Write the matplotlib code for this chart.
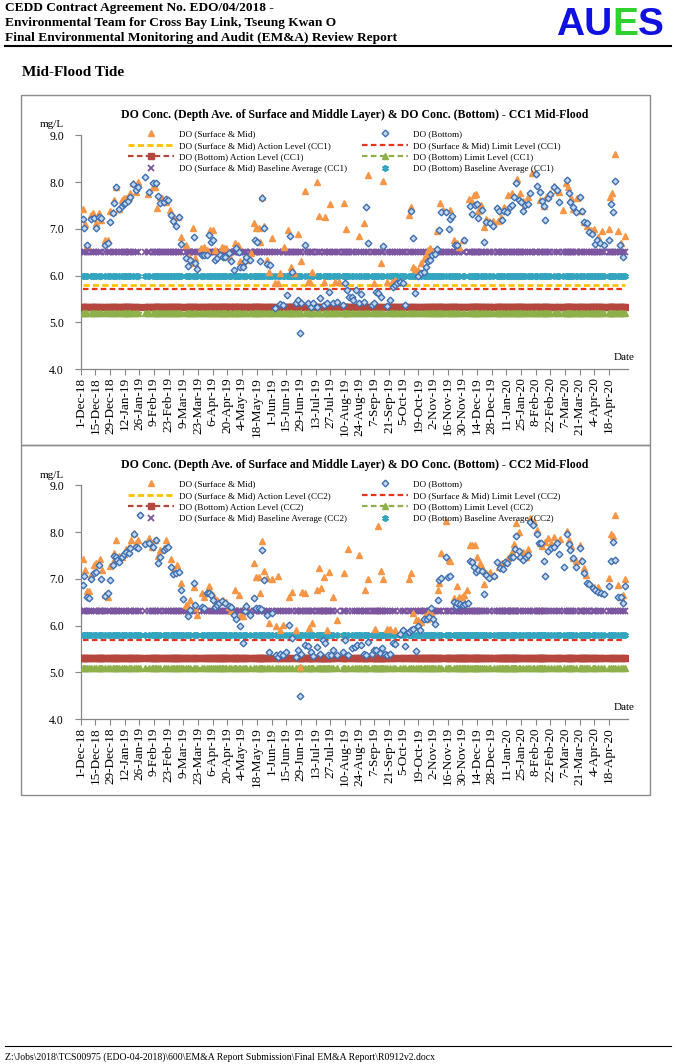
import pandas as pd
import matplotlib
matplotlib.use('Agg')
import matplotlib.pyplot as plt
from matplotlib.lines import Line2D
from matplotlib.patches import Rectangle
from matplotlib.ticker import FixedLocator, FixedFormatter

plt.rcParams['font.family'] = ['Liberation Serif', 'DejaVu Serif']

W, H = 676, 1064
start = pd.Timestamp('2018-12-01')

# ---- data (days after 1-Dec-18, DO in mg/L) ----
cc1_sm_day = [2, 4, 6, 10, 12, 15, 17, 19, 23, 26,
              28, 31, 32, 34, 37, 39, 41, 43, 46, 47,
              50, 53, 55, 64, 69, 71, 73, 76, 78, 81,
              85, 89, 93, 96, 100, 103, 104, 107, 109, 111,
              115, 118, 120, 123, 126, 128, 131, 135, 137, 139,
              142, 147, 150, 152, 155, 158, 162, 165, 167, 170,
              171, 173, 175, 178, 180, 182, 185, 188, 190, 194,
              198, 201, 203, 207, 210, 214, 217, 219, 221, 225,
              227, 232, 233, 238, 243, 246,
              251, 253, 265, 270, 274, 280, 286, 288, 292, 297,
              300, 306, 313, 315, 317, 319, 322, 325, 327, 329,
              331, 333, 336, 340, 343, 346, 352, 356, 359, 361,
              365, 370, 373, 375, 377, 379, 382, 385, 387, 389,
              393, 398, 401, 404, 408, 411, 416, 419, 422, 424,
              427, 430, 433, 438, 442, 444, 448, 451, 454, 456,
              460, 463, 465, 468, 470, 473, 477, 480, 483, 487,
              490, 493, 497, 504, 505, 507, 510, 512, 515, 519]
cc1_sm_val = [7.42, 7.10, 6.65, 7.30, 7.33, 7.13, 7.33, 7.19, 6.76, 6.76,
              7.37, 7.35, 7.62, 7.90, 7.43, 7.62, 7.65, 7.65, 7.69, 7.76,
              7.97, 7.79, 8.01, 7.74, 7.90, 7.89, 7.44, 7.69, 7.65, 7.58,
              7.40, 7.26, 7.26, 6.82, 6.65, 6.40, 6.26, 7.01, 6.37, 6.19,
              6.58, 6.62, 6.55, 6.97, 6.97, 6.55, 6.44, 6.62, 6.58, 6.58,
              6.40, 6.69, 6.65, 6.30, 6.26, 6.33, 6.48, 7.12, 7.01, 7.01,
              6.72, 7.69, 7.05, 6.33, 6.08, 6.80, 5.83, 5.83, 6.05, 6.62,
              6.97, 6.19, 6.05, 6.89, 6.30, 7.81, 5.87, 5.87, 6.08, 8.01,
              7.28, 5.87, 7.25, 7.54, 5.87, 5.87,
              7.56, 6.99, 6.85, 7.12, 8.14, 5.83, 6.26, 8.02, 5.87, 5.87,
              5.90, 5.87, 7.29, 7.46, 6.18, 6.15, 6.12, 6.26, 6.35, 6.44,
              6.55, 6.58, 6.53, 6.96, 7.55, 7.40, 7.40, 6.76, 6.70, 6.62,
              6.76, 7.63, 7.58, 7.72, 7.74, 7.37, 7.51, 7.03, 7.20, 7.17,
              7.17, 7.17, 7.25, 7.47, 7.72, 7.77, 8.07, 7.77, 7.60, 7.54,
              7.69, 8.19, 8.19, 7.62, 7.49, 7.69, 7.77, 7.92, 7.83, 7.79,
              7.40, 7.99, 7.89, 7.65, 7.42, 7.65, 7.37, 7.15, 7.05, 6.97,
              6.99, 6.82, 6.95, 6.99, 7.69, 7.76, 8.61, 6.96, 6.69, 6.85]

cc1_bot_day = [2, 3, 6, 10, 13, 15, 17, 19, 23, 26,
               28, 31, 32, 34, 37, 39, 41, 42, 45, 47,
               50, 53, 55, 61, 65, 69, 72, 74, 76, 79,
               81, 83, 86, 88, 91, 94, 96, 100, 102, 104,
               108, 109, 111, 116, 118, 120, 122, 124, 126, 128,
               130, 133, 136, 138, 141, 143, 146, 148, 151, 152,
               155, 157, 158, 161, 166, 168, 171, 173, 175, 178,
               181, 185, 190, 193, 197, 200, 202, 205, 207, 209,
               210, 214, 217, 220, 222, 225, 228, 232, 235, 237,
               241, 244,
               250, 252, 254, 256, 259, 260, 263, 265, 267, 270,
               272, 274, 278, 280, 282, 284, 286, 288, 292, 295,
               298, 300, 302, 305, 307, 309, 315, 317, 319, 322,
               325, 327, 329, 331, 333, 335, 338, 340, 342, 344,
               348, 351, 352, 354, 357, 359, 366, 371, 373, 376,
               378, 379, 383, 385, 387, 390, 393, 397, 399, 402,
               404, 407, 409, 411, 413, 415, 418, 420, 422, 424,
               427, 429, 434, 435, 438, 440, 442, 443, 446, 448,
               451, 454, 456, 464, 466, 467, 470, 472, 476, 478,
               480, 483, 485, 488, 491, 492, 495, 499, 504, 506,
               508, 510, 514, 517]
cc1_bot_val = [7.20, 7.01, 6.65, 7.20, 7.22, 7.02, 7.25, 7.22, 6.65, 6.69,
               7.15, 7.33, 7.56, 7.89, 7.42, 7.49, 7.53, 7.56, 7.60, 7.69,
               7.96, 7.82, 7.90, 8.10, 7.79, 7.97, 7.99, 7.70, 7.56, 7.57,
               7.63, 7.62, 7.30, 7.17, 7.07, 7.25, 6.67, 6.37, 6.21, 6.33,
               6.82, 6.26, 6.13, 6.44, 6.44, 6.44, 6.87, 6.72, 6.76, 6.33,
               6.37, 6.44, 6.40, 6.40, 6.49, 6.30, 6.12, 6.58, 6.51, 6.19,
               6.19, 6.30, 6.40, 6.33, 6.77, 6.71, 6.30, 7.65, 7.01, 6.25,
               6.23, 5.31, 5.39, 5.37, 5.58, 6.85, 6.08, 5.42, 5.48, 4.76,
               5.42, 6.65, 5.42, 5.32, 5.42, 5.33, 5.51, 5.37, 5.42, 5.65,
               5.42, 5.44,
               5.37, 5.83, 5.70, 5.55, 5.53, 5.48, 5.68, 5.42, 5.60, 5.44,
               7.46, 6.70, 5.37, 5.42, 5.65, 5.63, 5.55, 6.63, 5.35, 5.48,
               5.76, 5.80, 5.83, 5.87, 5.85, 5.37, 7.39, 6.80, 5.62, 5.98,
               6.05, 6.08, 6.18, 6.30, 6.33, 6.44, 6.46, 6.56, 6.97, 7.36,
               7.36, 6.99, 7.20, 7.27, 6.65, 6.65, 6.76, 7.49, 7.32, 7.51,
               7.53, 7.22, 7.40, 6.71, 7.15, 7.13, 7.05, 7.44, 7.37, 7.19,
               7.37, 7.35, 7.47, 7.51, 7.67, 7.99, 7.62, 7.58, 7.39, 7.51,
               7.53, 7.76, 8.17, 7.92, 7.79, 7.60, 7.49, 7.19, 7.65, 7.74,
               7.90, 7.83, 7.58, 8.04, 7.77, 7.58, 7.46, 7.35, 7.67, 7.38,
               7.15, 7.12, 6.94, 6.89, 6.67, 6.77, 6.69, 6.65, 6.76, 7.54,
               7.35, 8.03, 6.65, 6.40]

cc2_sm_day = [2, 4, 6, 8, 10, 13, 15, 18, 20, 23,
              26, 28, 31, 32, 34, 37, 39, 41, 43, 46,
              48, 51, 53, 55, 65, 68, 71, 74, 76, 79,
              81, 86, 89, 92, 96, 100, 102, 104, 108, 109,
              111, 116, 118, 122, 124, 126, 128, 130, 133, 136,
              139, 141, 143, 147, 151, 152, 155, 158, 165, 167,
              170, 171, 173, 175, 178, 180, 182, 186, 188, 190,
              193, 199, 202, 205, 209, 211, 214, 218, 221, 225,
              227, 229, 232, 235, 237, 241, 244,
              251, 255, 265, 271, 274, 281, 284, 286, 288, 292,
              295, 300, 313, 315, 317, 320, 322, 325, 328, 330,
              332, 335, 341, 342, 344, 348, 351, 352, 356, 359,
              361, 364, 366, 368, 371, 373, 376, 378, 381, 383,
              385, 387, 390, 394, 399, 402, 406, 408, 411, 413,
              415, 418, 419, 422, 425, 427, 429, 432, 435, 438,
              440, 443, 446, 449, 451, 457, 464, 466, 468, 470,
              472, 476, 477, 480, 482, 485, 490, 493, 504, 506,
              508, 510, 512, 515, 517, 519]
cc2_sm_val = [7.42, 7.19, 6.74, 6.74, 7.08, 7.30, 7.33, 7.42, 7.19, 6.65,
              6.62, 7.27, 7.35, 7.56, 7.84, 7.49, 7.47, 7.53, 7.63, 7.69,
              7.84, 7.99, 7.77, 7.83, 7.87, 7.69, 7.83, 7.49, 7.62, 7.65,
              7.84, 7.42, 7.19, 7.30, 6.90, 6.44, 6.42, 6.55, 6.83, 6.37,
              6.23, 6.69, 6.62, 6.85, 6.69, 6.65, 6.47, 6.55, 6.51, 6.55,
              6.51, 6.40, 6.30, 6.77, 6.65, 6.20, 6.20, 6.44, 7.33, 7.03,
              7.03, 6.69, 7.81, 7.17, 7.01, 6.05, 6.99, 5.98, 7.05, 5.90,
              6.01, 6.62, 6.72, 5.90, 5.12, 6.72, 6.69, 5.94, 6.05, 6.77,
              7.23, 6.80, 7.03, 5.90, 7.15, 6.60, 6.12,
              7.13, 7.63, 7.51, 6.76, 6.99, 5.92, 8.13, 7.17, 6.99, 5.92,
              5.92, 5.90, 6.99, 7.12, 6.26, 6.12, 6.12, 6.08, 6.20, 6.13,
              6.32, 6.23, 6.77, 6.90, 7.56, 8.24, 7.40, 7.37, 6.58, 6.85,
              6.60, 6.60, 6.65, 6.76, 7.72, 7.72, 7.72, 7.47, 7.33, 7.26,
              6.89, 7.12, 7.15, 7.08, 7.26, 7.33, 7.37, 7.44, 7.58, 7.74,
              8.19, 8.00, 7.49, 7.58, 7.47, 7.63, 8.31, 8.22, 8.04, 7.76,
              7.71, 7.79, 7.87, 7.77, 7.89, 7.85, 8.03, 7.83, 7.71, 7.45,
              7.37, 7.72, 7.40, 7.22, 7.08, 6.92, 6.83, 6.83, 7.01, 7.96,
              7.92, 8.37, 6.87, 6.62, 6.65, 7.00]

cc2_bot_day = [2, 3, 6, 8, 10, 13, 15, 17, 19, 23,
               26, 28, 31, 32, 34, 35, 37, 39, 41, 43,
               46, 47, 51, 53, 55, 57, 61, 65, 69, 72,
               74, 76, 79, 81, 83, 86, 88, 91, 94, 96,
               98, 102, 104, 108, 109, 116, 118, 120, 122, 124,
               126, 128, 130, 132, 135, 138, 141, 143, 146, 148,
               152, 155, 157, 158, 161, 165, 167, 170, 172, 173,
               175, 178, 180, 182, 186, 188, 190, 193, 196, 199,
               202, 205, 207, 209, 210, 214, 217, 220, 222, 225,
               228, 231, 233, 236, 239, 241, 244,
               250, 252, 255, 259, 262, 264, 267, 270, 272, 274,
               278, 280, 282, 285, 287, 290, 292, 295, 298, 300,
               305, 307, 309, 313, 315, 317, 320, 322, 324, 327,
               330, 332, 334, 336, 338, 341, 342, 344, 348, 350,
               352, 356, 358, 359, 362, 365, 367, 369, 371, 373,
               375, 377, 379, 383, 385, 387, 389, 394, 397, 400,
               403, 405, 407, 410, 412, 414, 415, 418, 419, 422,
               425, 427, 429, 431, 435, 437, 439, 442, 443, 446,
               449, 451, 454, 456, 461, 464, 466, 467, 470, 472,
               476, 478, 480, 483, 485, 489, 491, 493, 496, 499,
               504, 506, 508, 510, 512, 515, 517, 519]
cc2_bot_val = [6.87, 7.05, 6.60, 6.58, 6.99, 7.13, 7.15, 7.30, 7.00, 6.63,
               6.69, 6.97, 7.30, 7.49, 7.46, 7.40, 7.35, 7.46, 7.53, 7.58,
               7.56, 7.65, 7.95, 7.69, 7.65, 8.37, 7.74, 7.77, 7.69, 7.83,
               7.33, 7.46, 7.62, 7.65, 7.69, 7.25, 7.10, 7.13, 7.15, 6.75,
               6.56, 6.20, 6.33, 6.92, 6.44, 6.40, 6.37, 6.69, 6.69, 6.65,
               6.55, 6.39, 6.44, 6.49, 6.53, 6.48, 6.42, 6.39, 6.23, 6.15,
               6.00, 5.62, 6.30, 6.42, 6.23, 6.58, 6.37, 6.37, 6.35, 7.62,
               6.97, 6.23, 5.44, 6.26, 5.37, 5.33, 5.40, 5.37, 5.44, 6.01,
               5.73, 5.33, 5.48, 4.49, 5.40, 5.58, 5.56, 5.44, 5.35, 5.55,
               5.40, 5.70, 5.62, 5.37, 5.37, 5.48, 5.37,
               5.44, 5.69, 5.37, 5.51, 5.55, 5.58, 5.58, 5.40, 5.37, 5.65,
               5.40, 5.48, 5.48, 5.42, 5.51, 5.40, 5.37, 5.40, 5.62, 5.60,
               5.82, 5.90, 5.56, 5.87, 5.90, 5.92, 5.46, 5.98, 5.90, 6.13,
               6.15, 6.19, 6.37, 6.13, 6.03, 6.55, 6.97, 7.01, 7.46, 7.03,
               7.06, 6.51, 6.42, 6.49, 6.47, 6.44, 6.46, 6.49, 7.39, 7.35,
               7.25, 7.15, 7.19, 7.17, 6.67, 7.08, 7.01, 7.05, 7.35, 7.22,
               7.20, 7.35, 7.33, 7.46, 7.47, 7.63, 7.92, 7.60, 7.46, 7.40,
               7.47, 7.51, 8.22, 8.15, 7.96, 7.77, 7.76, 7.37, 7.05, 7.60,
               7.65, 7.69, 7.77, 7.54, 7.25, 7.96, 7.74, 7.62, 7.44, 7.25,
               7.65, 7.37, 7.13, 6.90, 6.89, 6.80, 6.76, 6.72, 6.70, 6.67,
               6.85, 7.37, 7.79, 7.40, 6.60, 6.60, 6.49, 6.85]

# levels: S&M action, S&M limit, bottom action, bottom limit, S&M baseline, bottom baseline
cc1_levels = [5.80, 5.71, 5.32, 5.19, 6.50, 6.00]
cc2_levels = [5.80, 5.70, 5.30, 5.10, 6.30, 5.80]

tick_dates = pd.date_range(start, periods=37, freq='14D')
tick_labels = [f"{d.day}-{d.strftime('%b-%y')}" for d in tick_dates]

fig = plt.figure(figsize=(W / 100, H / 100), dpi=100)


def fx(x):
    return x / W


def fy(y):
    return 1 - y / H


def draw_chart(off, stn, sm_day, sm_val, bot_day, bot_val, lv):
    ax = fig.add_axes([fx(80.7), fy(369 + off), (628 - 80.7) / W, (369 - 135.3) / H])
    sm_x = start + pd.to_timedelta(sm_day, unit='D')
    bot_x = start + pd.to_timedelta(bot_day, unit='D')
    all_days = sorted(set(sm_day) | set(bot_day))
    lx = start + pd.to_timedelta(all_days, unit='D')
    n = len(lx)

    h1, = ax.plot(sm_x, sm_val, ls='none', marker='^', ms=4.4, color='#F79646', zorder=5)
    h2, = ax.plot(bot_x, bot_val, ls='none', marker='D', ms=3.4, mfc='#C6D9F1',
                  mec='#3E6FB0', mew=1.0, zorder=6)
    h3, = ax.plot(lx, [lv[0]] * n, ls=(0, (2.2, 1.2)), lw=2.0, color='#FFC000', zorder=3)
    h4, = ax.plot(lx, [lv[1]] * n, ls=(0, (2.5, 1.5)), lw=1.6, color='#E8341C', zorder=3)
    h5, = ax.plot(lx, [lv[2]] * n, ls=(0, (2.5, 1.5)), lw=1.6, color='#B5473F',
                  marker='s', ms=4.4, zorder=3)
    h6, = ax.plot(lx, [lv[3]] * n, ls=(0, (2.5, 1.5)), lw=1.6, color='#8DB04A',
                  marker='^', ms=5.0, zorder=3)
    h7, = ax.plot(lx, [lv[4]] * n, ls='none', marker='x', ms=4.5, mew=1.3,
                  color='#7B559F', zorder=4)
    h8, = ax.plot(lx, [lv[5]] * n, ls='none', marker=(6, 2, 0), ms=4.8, mew=1.3,
                  color='#34A5BF', zorder=4)

    ax.set_xlim(start, start + pd.Timedelta(days=522))
    ax.set_ylim(4.0, 9.0)
    ax.xaxis.set_major_locator(FixedLocator(matplotlib.dates.date2num(tick_dates)))
    ax.xaxis.set_major_formatter(FixedFormatter(tick_labels))
    ax.set_yticks([4, 5, 6, 7, 8, 9])
    ax.set_yticklabels(['4.0', '5.0', '6.0', '7.0', '8.0', '9.0'])
    ax.tick_params(axis='x', rotation=90, labelsize=9.5, length=4, color='#868686', pad=2)
    ax.tick_params(axis='y', labelsize=8.5, length=4, color='#868686', pad=8)
    for s in ['top', 'right']:
        ax.spines[s].set_visible(False)
    for s in ['left', 'bottom']:
        ax.spines[s].set_color('#868686')
        ax.spines[s].set_linewidth(0.9)
    ax.patch.set_alpha(0)

    lab = ['DO (Surface & Mid)', 'DO (Bottom)',
           f'DO (Surface & Mid) Action Level ({stn})', f'DO (Surface & Mid) Limit Level ({stn})',
           f'DO (Bottom) Action Level ({stn})', f'DO (Bottom) Limit Level ({stn})',
           f'DO (Surface & Mid) Baseline Average ({stn})', f'DO (Bottom) Baseline Average ({stn})']
    hs = [h1, h2, h3, h4, h5, h6, h7, h8]
    order = [0, 2, 4, 6, 1, 3, 5, 7]
    leg = ax.legend([hs[i] for i in order], [lab[i] for i in order], loc='upper left',
                    bbox_to_anchor=(fx(128), fy(130 + off)), bbox_transform=fig.transFigure,
                    ncol=2, frameon=False, fontsize=6.6, handlelength=5.0, handletextpad=0.6,
                    columnspacing=1.6, labelspacing=0.33, borderaxespad=0, borderpad=0,
                    numpoints=1)
    leg.set_zorder(10)

    fig.text(fx(355), fy(115 + off),
             f'DO Conc. (Depth Ave. of Surface and Middle Layer) & DO Conc. (Bottom) - {stn} Mid-Flood',
             ha='center', va='center', fontsize=8.5, fontweight='bold')
    fig.text(fx(52), fy(125 + off), 'mg/L', ha='center', va='center', fontsize=8)
    fig.text(fx(624), fy(357 + off), 'Date', ha='center', va='center', fontsize=8)
    fig.add_artist(Rectangle((fx(21), fy(445 + off)), (650 - 21) / W, 350 / H,
                             transform=fig.transFigure, fill=False, edgecolor='#8c8c8c', lw=1))


draw_chart(0, 'CC1', cc1_sm_day, cc1_sm_val, cc1_bot_day, cc1_bot_val, cc1_levels)
draw_chart(350, 'CC2', cc2_sm_day, cc2_sm_val, cc2_bot_day, cc2_bot_val, cc2_levels)

# page header / footer
hdr = ['CEDD Contract Agreement No. EDO/04/2018 -',
       'Environmental Team for Cross Bay Link, Tseung Kwan O',
       'Final Environmental Monitoring and Audit (EM&A) Review Report']
for i, t in enumerate(hdr):
    fig.text(fx(5), fy(8.5 + 14.5 * i), t, ha='left', va='center', fontsize=9.6, fontweight='bold')
for t, x, c in [('AU', 556, '#1010E0'), ('E', 612, '#2ED12E'), ('S', 638, '#1010E0')]:
    fig.text(fx(x), fy(35), t, ha='left', va='baseline', fontsize=28, fontweight='bold',
             color=c, family='Liberation Sans')
fig.add_artist(Line2D([fx(5), fx(671)], [fy(45.5), fy(45.5)], color='black', lw=1.5,
                      transform=fig.transFigure))
fig.text(fx(22), fy(72), 'Mid-Flood Tide', ha='left', va='center', fontsize=11, fontweight='bold')
fig.add_artist(Line2D([fx(5), fx(671)], [fy(1046), fy(1046)], color='black', lw=0.8,
                      transform=fig.transFigure))
fig.text(fx(5), fy(1057),
         'Z:\\Jobs\\2018\\TCS00975 (EDO-04-2018)\\600\\EM&A Report Submission\\Final EM&A Report\\R0912v2.docx',
         ha='left', va='center', fontsize=7)

plt.savefig('out.png', dpi=100)
